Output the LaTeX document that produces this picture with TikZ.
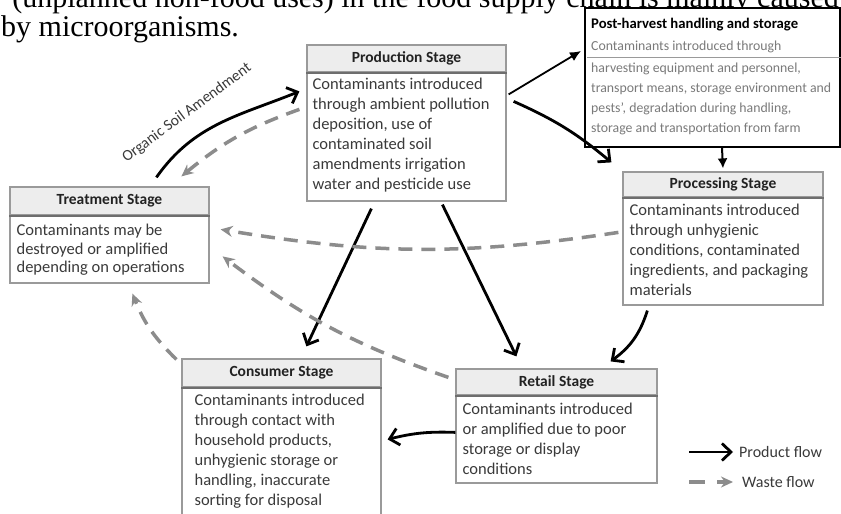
\documentclass[tikz,border=0pt]{standalone}
\usepackage{fontspec}
\setmainfont{Liberation Serif}
\newfontfamily\calfont{Carlito}
\usetikzlibrary{arrows.meta,calc}
\definecolor{frame}{HTML}{9A9A9A}
\definecolor{hdrfill}{HTML}{EDEDED}
\definecolor{sepcol}{HTML}{6E6E6E}
\definecolor{txt}{HTML}{3A3A3A}
\definecolor{hdrtxt}{HTML}{222222}
\definecolor{waste}{HTML}{8C8C8C}
\definecolor{phtxt}{HTML}{7A7A7A}
\begin{document}
\begin{tikzpicture}[x=1pt,y=1pt,
  frm/.style={draw=frame,line width=1.2pt,inner sep=0pt},
  hdrbox/.style={frm,fill=hdrfill},
  bodybox/.style={frm,fill=white},
  hdrtext/.style={font=\calfont\bfseries\fontsize{15.5}{18}\selectfont,text=hdrtxt,inner sep=0pt},
  bodytext/.style={font=\calfont\fontsize{16.5}{20}\selectfont,text=txt,align=left,inner sep=0pt,anchor=north west},
  sepline/.style={draw=sepcol,line width=2pt},
  prodarrow/.style={line width=2.8pt,-{Straight Barb[length=9pt,width=17pt]}},
  wastearrow/.style={draw=waste,line width=3.5pt,dash pattern=on 14pt off 9pt,-{Stealth[length=12pt,width=11pt]}},
  toptext/.style={font=\fontsize{30}{34}\selectfont,inner sep=0pt},
  legtext/.style={font=\calfont\fontsize{16}{19}\selectfont,text=txt,inner sep=0pt,anchor=west},
]
\useasboundingbox (0,0) rectangle (841,514);
\clip (0,0) rectangle (841,514);
\fill[white] (0,0) rectangle (841,514);

% running text of the page
\node[toptext,anchor=base east] (top1) at (839,506.5) {(unplanned non-food uses) in the food supply chain is mainly caused};
\node[toptext,anchor=base west] (top2) at (1,477) {by microorganisms.};

% Production stage
\node[hdrbox,minimum width=199pt,minimum height=27pt] (prodh) at (406.5,455.5) {};
\node[bodybox,minimum width=199pt,minimum height=129pt] (prodb) at (406.5,377.5) {};
\draw[sepline] (prodh.south west) -- (prodh.south east);
\node[hdrtext] (prodl) at (prodh.center) {Production Stage};
\node[bodytext] (prodt) at ($(prodb.north west)+(6,-6.5)$) {Contaminants introduced\\through ambient pollution\\deposition, use of\\contaminated soil\\amendments irrigation\\water and pesticide use};

% Post-harvest
\node[draw=black,line width=2pt,fill=white,minimum width=255pt,minimum height=139pt,inner sep=0pt] (post) at (712.5,436.5) {};
\node[font=\calfont\bfseries\fontsize{14.7}{17}\selectfont,inner sep=0pt,anchor=base west] (postl) at (591,485) {Post-harvest handling and storage};
\node[font=\calfont\fontsize{13.8}{20}\selectfont,text=phtxt,inner sep=0pt,anchor=base west] (post1) at (591,463.5) {Contaminants introduced through};
\draw[draw=frame,line width=1pt] ($(post.north west)+(3,-51)$) -- ($(post.north east)+(0,-51)$);
\node[font=\calfont\fontsize{13.8}{20}\selectfont,text=phtxt,align=left,inner sep=0pt,anchor=north west] (post2) at (591,451) {harvesting equipment and personnel,\\transport means, storage environment and\\pests’, degradation during handling,\\storage and transportation from farm};

% Processing stage
\node[hdrbox,minimum width=200pt,minimum height=25pt] (proch) at (723,329.5) {};
\node[bodybox,minimum width=200pt,minimum height=108pt] (procb) at (723,263) {};
\draw[sepline] (proch.south west) -- (proch.south east);
\node[hdrtext] (procl) at (proch.center) {Processing Stage};
\node[bodytext] (proct) at ($(procb.north west)+(7,-7.5)$) {Contaminants introduced\\through unhygienic\\conditions, contaminated\\ingredients, and packaging\\materials};

% Treatment stage
\node[hdrbox,minimum width=199pt,minimum height=28pt] (treath) at (109.5,313) {};
\node[bodybox,minimum width=199pt,minimum height=68pt] (treatb) at (109.5,265) {};
\draw[sepline] (treath.south west) -- (treath.south east);
\node[hdrtext] (treatl) at (treath.center) {Treatment Stage};
\node[bodytext,font=\calfont\fontsize{16.5}{18.7}\selectfont] (treatt) at ($(treatb.north west)+(7,-9.5)$) {Contaminants may be\\destroyed or amplified\\depending on operations};

% Consumer stage
\node[hdrbox,minimum width=199pt,minimum height=28pt] (consh) at (281.5,141) {};
\node[bodybox,minimum width=199pt,minimum height=137pt] (consb) at (281.5,58.5) {};
\draw[sepline] (consh.south west) -- (consh.south east);
\node[hdrtext] (consl) at (consh.center) {Consumer Stage};
\node[bodytext] (const) at ($(consb.north west)+(13,-7.5)$) {Contaminants introduced\\through contact with\\household products,\\unhygienic storage or\\handling, inaccurate\\sorting for disposal};

% Retail stage
\node[hdrbox,minimum width=201pt,minimum height=26pt] (reth) at (556.5,132) {};
\node[bodybox,minimum width=201pt,minimum height=88pt] (retb) at (556.5,75) {};
\draw[sepline] (reth.south west) -- (reth.south east);
\node[hdrtext] (retl) at (reth.center) {Retail Stage};
\node[bodytext] (rett) at ($(retb.north west)+(7,-8.5)$) {Contaminants introduced\\or amplified due to poor\\storage or display\\conditions};

% product flows
\draw[prodarrow] ($(treath.north west)+(147,9)$) to[out=55,in=202] ($(prodb.north west)+(-7,-20)$);
\node[font=\calfont\fontsize{15.5}{19}\selectfont,text=txt,inner sep=0pt,rotate=36.5] (osa) at (187,401) {Organic Soil Amendment};
\draw[line width=1.8pt,-{Latex[length=11pt,width=10pt]}] ($(prodb.north east)+(2,-23)$) -- ($(post.north west)+(-3,-44)$);
\draw[prodarrow] ($(prodb.north east)+(7,-30)$) to[bend left=8] ($(proch.north west)+(-11,9)$);
\draw[line width=2pt,-{Latex[length=10pt,width=10pt]}] ($(post.south west)+(138,0)$) -- ($(proch.north)+(0,3)$);
\draw[prodarrow] ($(prodb.south west)+(65,-7)$) -- ($(consh.north west)+(125,12)$);
\draw[prodarrow] ($(prodb.south west)+(136,-3)$) -- ($(reth.north west)+(61,12)$);
\draw[prodarrow] ($(procb.south west)+(25,-5)$) to[bend left=18] ($(reth.north east)+(-47,7)$);
\draw[prodarrow] ($(retb.north west)+(0,-38)$) to[bend right=8] ($(consb.north east)+(6,-53)$);

% waste flows
\draw[wastearrow] ($(prodb.north west)+(-7,-38)$) to[bend right=10] ($(treath.north west)+(172,10)$);
\draw[wastearrow] ($(procb.north west)+(-4,-36)$) to[bend left=9] ($(treatb.north east)+(11,-15)$);
\draw[wastearrow] ($(reth.north west)+(-7,-9)$) to[bend left=9] ($(treatb.north east)+(13,-42)$);
\draw[wastearrow] ($(consh.north west)+(-5,-1)$) to[bend left=12] ($(treatb.south west)+(123,-10)$);

% legend
\coordinate (lp1) at (689,62);
\coordinate (lp2) at (733,62);
\coordinate (lw1) at (689,32);
\coordinate (lw2) at (733,32);
\draw[prodarrow] (lp1) -- (lp2);
\draw[wastearrow,dash pattern=on 16pt off 12pt] (lw1) -- (lw2);
\node[legtext] (legp) at (739,62) {Product flow};
\node[legtext] (legw) at (742,32) {Waste flow};
\end{tikzpicture}
\end{document}
